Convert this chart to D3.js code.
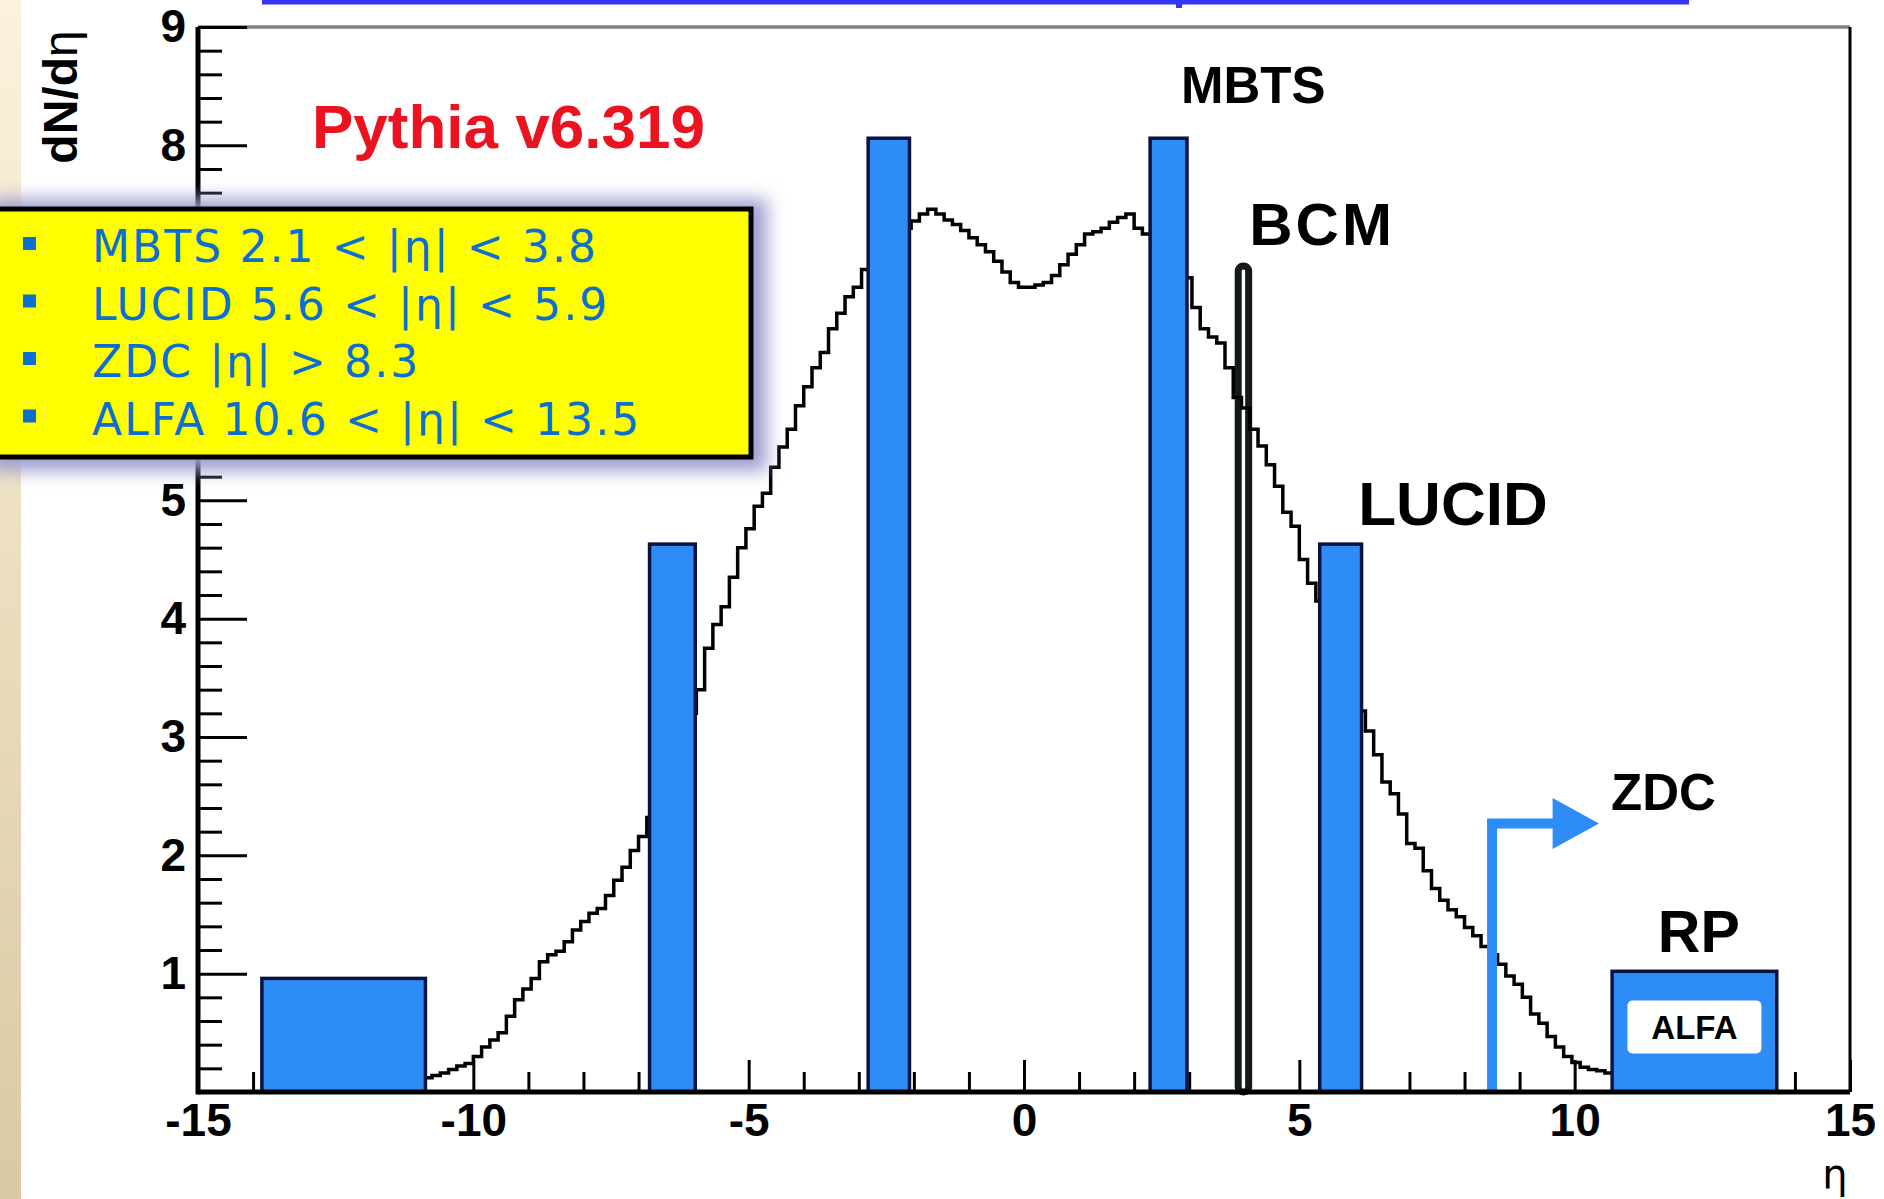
<!DOCTYPE html>
<html>
<head>
<meta charset="utf-8">
<script src="https://cdn.jsdelivr.net/npm/d3@7/dist/d3.min.js"></script>
<style>
  html, body { margin: 0; padding: 0; background: #fff; }
  svg { display: block; }
</style>
</head>
<body>
<div id="chart"></div>
<script>
// pythia dN/deta histogram, bins of 0.15 starting at eta = -10.9
const binStart = -10.9;
const binWidth = 0.15;
const dndeta = [
  0.12, 0.14, 0.16, 0.19, 0.22, 0.24, 0.30, 0.38, 0.44, 0.50,
  0.64, 0.78, 0.87, 0.96, 1.10, 1.16, 1.19, 1.27, 1.37, 1.44,
  1.51, 1.55, 1.66, 1.79, 1.90, 2.04, 2.16, 2.32, 2.50, 2.65,
  2.80, 2.98, 3.20, 3.40, 3.75, 3.95, 4.10, 4.35, 4.60, 4.76,
  4.95, 5.06, 5.28, 5.45, 5.60, 5.80, 5.96, 6.12, 6.25, 6.45,
  6.58, 6.72, 6.80, 6.95, 7.05, 7.10, 7.20, 7.25, 7.30, 7.36,
  7.42, 7.46, 7.42, 7.37, 7.33, 7.28, 7.22, 7.16, 7.10, 7.02,
  6.93, 6.84, 6.80, 6.80, 6.82, 6.84, 6.90, 6.99, 7.08, 7.16,
  7.25, 7.27, 7.30, 7.35, 7.39, 7.42, 7.30, 7.25, 7.20, 7.12,
  7.05, 6.98, 6.88, 6.63, 6.45, 6.38, 6.33, 6.12, 5.87, 5.78,
  5.60, 5.46, 5.30, 5.12, 4.90, 4.78, 4.50, 4.30, 4.15, 4.00,
  3.85, 3.65, 3.45, 3.22, 3.05, 2.85, 2.62, 2.52, 2.35, 2.10,
  2.06, 1.87, 1.72, 1.62, 1.54, 1.48, 1.39, 1.32, 1.23, 1.16,
  1.08, 0.98, 0.91, 0.80, 0.66, 0.58, 0.47, 0.38, 0.30, 0.25,
  0.21, 0.19, 0.18, 0.16
];

// detector blocks
const detNames = ['ALFA', 'LUCID', 'MBTS', 'MBTS', 'LUCID', 'ALFA'];
const detLo = [-13.84, -6.80, -2.83, 2.29, 5.37, 10.68];
const detHi = [-10.87, -5.97, -2.08, 2.96, 6.13, 13.67];
const detTop = [0.96, 4.63, 8.06, 8.06, 4.63, 1.02];

const bcmLo = 3.89, bcmHi = 4.08, bcmTop = 6.98;
const zdcEta = 8.5, zdcLevel = 2.27;

const xMajor = [-15, -10, -5, 0, 5, 10, 15];
const yMajor = [0, 1, 2, 3, 4, 5, 6, 7, 8, 9];
// 6 and 7 sit under the yellow box
const yLabelled = [1, 2, 3, 4, 5, 8, 9];

const legendItems = [
  'MBTS 2.1 < |η| < 3.8',
  'LUCID 5.6 < |η| < 5.9',
  'ZDC |η| > 8.3',
  'ALFA 10.6 < |η| < 13.5'
];

const W = 1884, H = 1199;
const blue = '#2e8cf6';
const font = '"Liberation Sans", Arial, Helvetica, sans-serif';

const svg = d3.select('#chart').append('svg')
  .attr('width', W).attr('height', H);

const defs = svg.append('defs');
const grad = defs.append('linearGradient').attr('id', 'beige')
  .attr('x1', 0).attr('y1', 0).attr('x2', 0).attr('y2', 1);
grad.append('stop').attr('offset', 0).attr('stop-color', '#fdf1dc');
grad.append('stop').attr('offset', 1).attr('stop-color', '#d8caa2');
defs.append('filter').attr('id', 'glow')
  .attr('x', '-20%').attr('y', '-30%').attr('width', '140%').attr('height', '160%')
  .append('feGaussianBlur').attr('stdDeviation', 9);

svg.append('rect').attr('width', W).attr('height', H).attr('fill', '#fff');
svg.append('rect').attr('width', 21).attr('height', H).attr('fill', 'url(#beige)');

// cut off title underline at the very top
svg.append('rect').attr('x', 262).attr('y', 0).attr('width', 1427).attr('height', 4.5).attr('fill', '#3535f5');
svg.append('rect').attr('x', 1176).attr('y', 0).attr('width', 6).attr('height', 8).attr('fill', '#3535f5');

const x = d3.scaleLinear().domain([-15, 15]).range([198, 1850]);
const y = d3.scaleLinear().domain([0, 9]).range([1092, 27]);

// frame
svg.append('line').attr('x1', x(-15)).attr('x2', x(15)).attr('y1', y(9)).attr('y2', y(9))
  .attr('stroke', '#7f7f7f').attr('stroke-width', 3.5);
svg.append('line').attr('x1', x(15)).attr('x2', x(15)).attr('y1', y(9)).attr('y2', y(0))
  .attr('stroke', '#000').attr('stroke-width', 3);

// axes (ticks pointing inwards)
const xMinor = d3.range(-14, 15).filter(d => d % 5 !== 0);
const yMinor = d3.range(1, 45).filter(i => i % 5 !== 0).map(i => i / 5);

function styleAxis(g) {
  g.select('.domain').remove();
  g.selectAll('line').attr('stroke', '#000').attr('stroke-width', 3);
  g.selectAll('text').attr('font-family', font).attr('font-weight', 'bold')
    .attr('font-size', 46).attr('fill', '#000');
}

svg.append('g').attr('transform', `translate(0,${y(0)})`)
  .call(d3.axisBottom(x).tickValues(xMinor).tickSize(-20).tickFormat(''))
  .call(styleAxis);
svg.append('g').attr('transform', `translate(0,${y(0)})`)
  .call(d3.axisBottom(x).tickValues(xMajor).tickSize(-32).tickPadding(11).tickFormat(d => d < 0 ? '-' + (-d) : d))
  .call(styleAxis);
svg.append('g').attr('transform', `translate(${x(-15)},0)`)
  .call(d3.axisLeft(y).tickValues(yMinor).tickSize(-24).tickFormat(''))
  .call(styleAxis);
svg.append('g').attr('transform', `translate(${x(-15)},0)`)
  .call(d3.axisLeft(y).tickValues(yMajor).tickSize(-49).tickPadding(12)
    .tickFormat(d => yLabelled.includes(d) ? d : ''))
  .call(styleAxis);

// BCM
svg.append('rect')
  .attr('x', x(bcmLo)).attr('y', y(bcmTop))
  .attr('width', x(bcmHi) - x(bcmLo)).attr('height', y(0) - y(bcmTop))
  .attr('rx', 5)
  .attr('fill', '#fff').attr('stroke', '#141a1a').attr('stroke-width', 7);

// histogram step line
const steps = dndeta.map((v, i) => ({ eta: binStart + i * binWidth, v: v }));
steps.push({ eta: binStart + dndeta.length * binWidth, v: dndeta[dndeta.length - 1] });
svg.append('path')
  .datum(steps)
  .attr('fill', 'none')
  .attr('stroke', '#000')
  .attr('stroke-width', 3.5)
  .attr('d', d3.line().curve(d3.curveStepAfter)
    .x(d => x(d.eta))
    .y(d => y(d.v)));

// detector blocks
svg.append('g').selectAll('rect')
  .data(detNames)
  .enter()
  .append('rect')
  .attr('x', (d, i) => x(detLo[i]))
  .attr('y', (d, i) => y(detTop[i]))
  .attr('width', (d, i) => x(detHi[i]) - x(detLo[i]))
  .attr('height', (d, i) => y(0) - y(detTop[i]))
  .attr('fill', blue)
  .attr('stroke', '#0a1240')
  .attr('stroke-width', 3.5);

// white ALFA tag inside the right RP block
const alfaMid = (detLo[5] + detHi[5]) / 2;
svg.append('rect')
  .attr('x', x(alfaMid) - 67).attr('y', y(0.55) - 26.5)
  .attr('width', 134).attr('height', 53).attr('rx', 5)
  .attr('fill', '#fff');
svg.append('text')
  .attr('x', x(alfaMid)).attr('y', y(0.55) + 12)
  .attr('text-anchor', 'middle')
  .attr('font-family', font).attr('font-weight', 'bold').attr('font-size', 33)
  .text(detNames[5]);

// ZDC arrow
svg.append('path')
  .attr('d', `M${x(zdcEta)},${y(0)} V${y(zdcLevel)} H${x(9.62)}`)
  .attr('fill', 'none').attr('stroke', blue).attr('stroke-width', 10);
svg.append('path')
  .attr('d', `M${x(9.6)},${y(zdcLevel) - 25.5} L${x(10.44)},${y(zdcLevel)} L${x(9.6)},${y(zdcLevel) + 25.5} Z`)
  .attr('fill', blue);

// axis lines on top
svg.append('line').attr('x1', x(-15)).attr('x2', x(15)).attr('y1', y(0)).attr('y2', y(0))
  .attr('stroke', '#000').attr('stroke-width', 5);
svg.append('line').attr('x1', x(-15)).attr('x2', x(-15)).attr('y1', y(9)).attr('y2', y(0) + 2.5)
  .attr('stroke', '#000').attr('stroke-width', 5);

// annotations
const labels = [
  { t: 'MBTS', eta: 2.85, v: 8.36, size: 51 },
  { t: 'BCM', eta: 4.09, v: 7.16, size: 60, ls: 3 },
  { t: 'LUCID', eta: 6.07, v: 4.79, size: 62 },
  { t: 'ZDC', eta: 10.66, v: 2.38, size: 51 },
  { t: 'RP', eta: 11.51, v: 1.18, size: 59 }
];
svg.append('g').selectAll('text')
  .data(labels)
  .enter()
  .append('text')
  .attr('x', d => x(d.eta))
  .attr('y', d => y(d.v))
  .attr('font-family', font).attr('font-weight', 'bold')
  .attr('font-size', d => d.size)
  .attr('letter-spacing', d => d.ls || 0)
  .attr('fill', '#000')
  .text(d => d.t);

svg.append('text')
  .attr('x', x(-12.93)).attr('y', y(7.98))
  .attr('font-family', font).attr('font-weight', 'bold').attr('font-size', 62)
  .attr('fill', '#ec1320')
  .text('Pythia v6.319');

// axis titles
svg.append('text')
  .attr('transform', 'translate(77,97) rotate(-90)')
  .attr('text-anchor', 'middle')
  .attr('font-family', font).attr('font-size', 48).attr('fill', '#000')
  .call(t => {
    t.append('tspan').attr('font-weight', 'bold').text('dN/d');
    t.append('tspan').text('η');
  });
svg.append('text')
  .attr('x', 1835).attr('y', 1188)
  .attr('text-anchor', 'middle')
  .attr('font-family', '"DejaVu Sans", sans-serif').attr('font-size', 40)
  .attr('fill', '#000')
  .text('η');

// yellow legend box with soft shadow
const lg = svg.append('g');
lg.append('rect')
  .attr('x', -10).attr('y', 199).attr('width', 777).attr('height', 272)
  .attr('fill', '#9c9dd2').attr('filter', 'url(#glow)');
lg.append('rect')
  .attr('x', -10).attr('y', 209).attr('width', 761).attr('height', 248)
  .attr('fill', '#ffff00').attr('stroke', '#000').attr('stroke-width', 5);
const rows = lg.selectAll('g.row')
  .data(legendItems)
  .enter()
  .append('g')
  .attr('class', 'row')
  .attr('transform', (d, i) => `translate(0,${262 + i * 57.5})`);
rows.append('rect')
  .attr('x', 23).attr('y', -25).attr('width', 13).attr('height', 13)
  .attr('fill', '#0b6fd1');
rows.append('text')
  .attr('x', 92).attr('y', 0)
  .attr('font-family', '"DejaVu Sans", sans-serif').attr('font-size', 44)
  .attr('letter-spacing', 2.1)
  .attr('fill', '#0b6fd1')
  .text(d => d);
</script>
</body>
</html>
